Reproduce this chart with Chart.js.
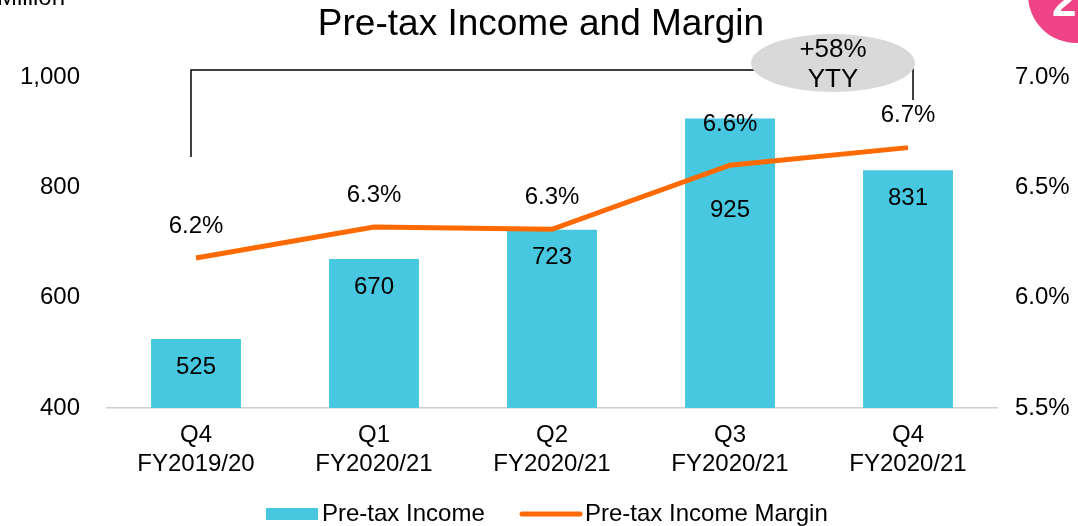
<!DOCTYPE html>
<html>
<head>
<meta charset="utf-8">
<script src="https://cdn.jsdelivr.net/npm/chart.js@4"></script>
<style>
  html, body { margin: 0; padding: 0; background: #fff; }
  #wrap { width: 1078px; height: 526px; }
</style>
</head>
<body>
<div id="wrap"><canvas id="pretaxChart" width="1078" height="526"></canvas></div>
<script>
// data block
const quarters = [["Q4", "FY2019/20"], ["Q1", "FY2020/21"], ["Q2", "FY2020/21"], ["Q3", "FY2020/21"], ["Q4", "FY2020/21"]];
const pretaxIncome = [525, 670, 723, 925, 831];
const pretaxMargin = [6.18, 6.32, 6.31, 6.6, 6.68];
const marginLabels = ["6.2%", "6.3%", "6.3%", "6.6%", "6.7%"];
const leftTicks = [400, 600, 800, 1000];
const rightTicks = [5.5, 6.0, 6.5, 7.0];

const FONT = "'Liberation Sans', Arial, sans-serif";
const BAR_COLOR = "#47c8e0";
const LINE_COLOR = "#ff6a00";

// labels on bars and line points
const valueLabels = {
  id: "valueLabels",
  afterDatasetsDraw(chart) {
    const ctx = chart.ctx;
    ctx.save();
    ctx.fillStyle = "#000";
    ctx.font = "24px " + FONT;
    ctx.textAlign = "center";
    ctx.textBaseline = "middle";
    chart.getDatasetMeta(0).data.forEach((bar, i) => {
      const drop = i === 3 ? 92 : 28;
      ctx.fillText(String(pretaxIncome[i]), bar.x, bar.y + drop);
    });
    chart.getDatasetMeta(1).data.forEach((pt, i) => {
      const lift = i === 3 ? 41 : 32;
      ctx.fillText(marginLabels[i], pt.x, pt.y - lift);
    });
    ctx.restore();
  },
};

// title, unit, bracket with YTY bubble, legend, corner badge
const decorations = {
  id: "decorations",
  afterDraw(chart) {
    const ctx = chart.ctx;
    const xs = chart.scales.x;
    const x0 = xs.getPixelForValue(0) - 5;
    const x4 = xs.getPixelForValue(4) + 5;
    ctx.save();

    ctx.fillStyle = "#000";
    ctx.font = "37px " + FONT;
    ctx.textAlign = "center";
    ctx.textBaseline = "middle";
    ctx.fillText("Pre-tax Income and Margin", 541, 25);

    ctx.font = "24px " + FONT;
    ctx.textAlign = "left";
    ctx.textBaseline = "alphabetic";
    ctx.fillText("Million", -3, 5);

    // badge
    ctx.fillStyle = "#ee4485";
    ctx.beginPath();
    ctx.arc(1076, -5, 48, 0, Math.PI * 2);
    ctx.fill();
    ctx.fillStyle = "#fff";
    ctx.font = "bold 44px " + FONT;
    ctx.textAlign = "left";
    ctx.fillText("2", 1052, 16);

    // bracket
    ctx.strokeStyle = "#000";
    ctx.lineWidth = 1.5;
    ctx.beginPath();
    ctx.moveTo(x0, 157);
    ctx.lineTo(x0, 70);
    ctx.lineTo(760, 70);
    ctx.moveTo(x4, 68);
    ctx.lineTo(x4, 100);
    ctx.stroke();

    ctx.fillStyle = "#d9d9d9";
    ctx.beginPath();
    ctx.ellipse(833, 63, 82, 29, 0, 0, Math.PI * 2);
    ctx.fill();
    ctx.fillStyle = "#000";
    ctx.font = "26px " + FONT;
    ctx.textAlign = "center";
    ctx.textBaseline = "middle";
    ctx.fillText("+58%", 833, 50);
    ctx.fillText("YTY", 833, 80);

    // legend
    ctx.fillStyle = BAR_COLOR;
    ctx.fillRect(266, 508, 52, 12);
    ctx.strokeStyle = LINE_COLOR;
    ctx.lineWidth = 5;
    ctx.lineCap = "round";
    ctx.beginPath();
    ctx.moveTo(522, 514);
    ctx.lineTo(580, 514);
    ctx.stroke();
    ctx.fillStyle = "#000";
    ctx.font = "24px " + FONT;
    ctx.textAlign = "left";
    ctx.textBaseline = "middle";
    ctx.fillText("Pre-tax Income", 322, 514);
    ctx.fillText("Pre-tax Income Margin", 585, 514);

    ctx.restore();
  },
};

const data = {
  labels: quarters,
  datasets: [
    {
      type: "bar",
      label: "Pre-tax Income",
      data: pretaxIncome,
      yAxisID: "y",
      backgroundColor: BAR_COLOR,
      barPercentage: 0.505,
      categoryPercentage: 1,
      order: 1,
    },
    {
      type: "line",
      label: "Pre-tax Income Margin",
      data: pretaxMargin,
      yAxisID: "y1",
      borderColor: LINE_COLOR,
      backgroundColor: LINE_COLOR,
      borderWidth: 5,
      pointRadius: 0,
      tension: 0,
      order: 0,
    },
  ],
};

const config = {
  type: "bar",
  data,
  options: {
    responsive: false,
    animation: false,
    layout: { padding: { top: 77, left: 0, right: 0, bottom: 0 } },
    plugins: { legend: { display: false }, tooltip: { enabled: false }, title: { display: false } },
    scales: {
      x: {
        grid: { display: false, drawTicks: false },
        border: { display: true, color: "#d0d0d0", width: 1.5 },
        ticks: { color: "#000", font: { family: FONT, size: 24 }, padding: 13, maxRotation: 0 },
        afterFit(s) { s.height = 118; },
      },
      y: {
        position: "left",
        min: 400,
        max: 1000,
        afterBuildTicks(s) { s.ticks = leftTicks.map((v) => ({ value: v })); },
        grid: { display: false, drawTicks: false },
        border: { display: false },
        ticks: {
          color: "#000",
          font: { family: FONT, size: 24 },
          padding: 27,
          callback: (v) => v.toLocaleString("en-US"),
        },
        afterFit(s) { s.width = 107; },
      },
      y1: {
        position: "right",
        min: 5.5,
        max: 7.0,
        afterBuildTicks(s) { s.ticks = rightTicks.map((v) => ({ value: v })); },
        grid: { display: false, drawTicks: false },
        border: { display: false },
        ticks: {
          color: "#000",
          font: { family: FONT, size: 24 },
          padding: 18,
          callback: (v) => v.toFixed(1) + "%",
        },
        afterFit(s) { s.width = 81; },
      },
    },
  },
  plugins: [valueLabels, decorations],
};

const myChart = new Chart(document.getElementById("pretaxChart"), config);
</script>
</body>
</html>
